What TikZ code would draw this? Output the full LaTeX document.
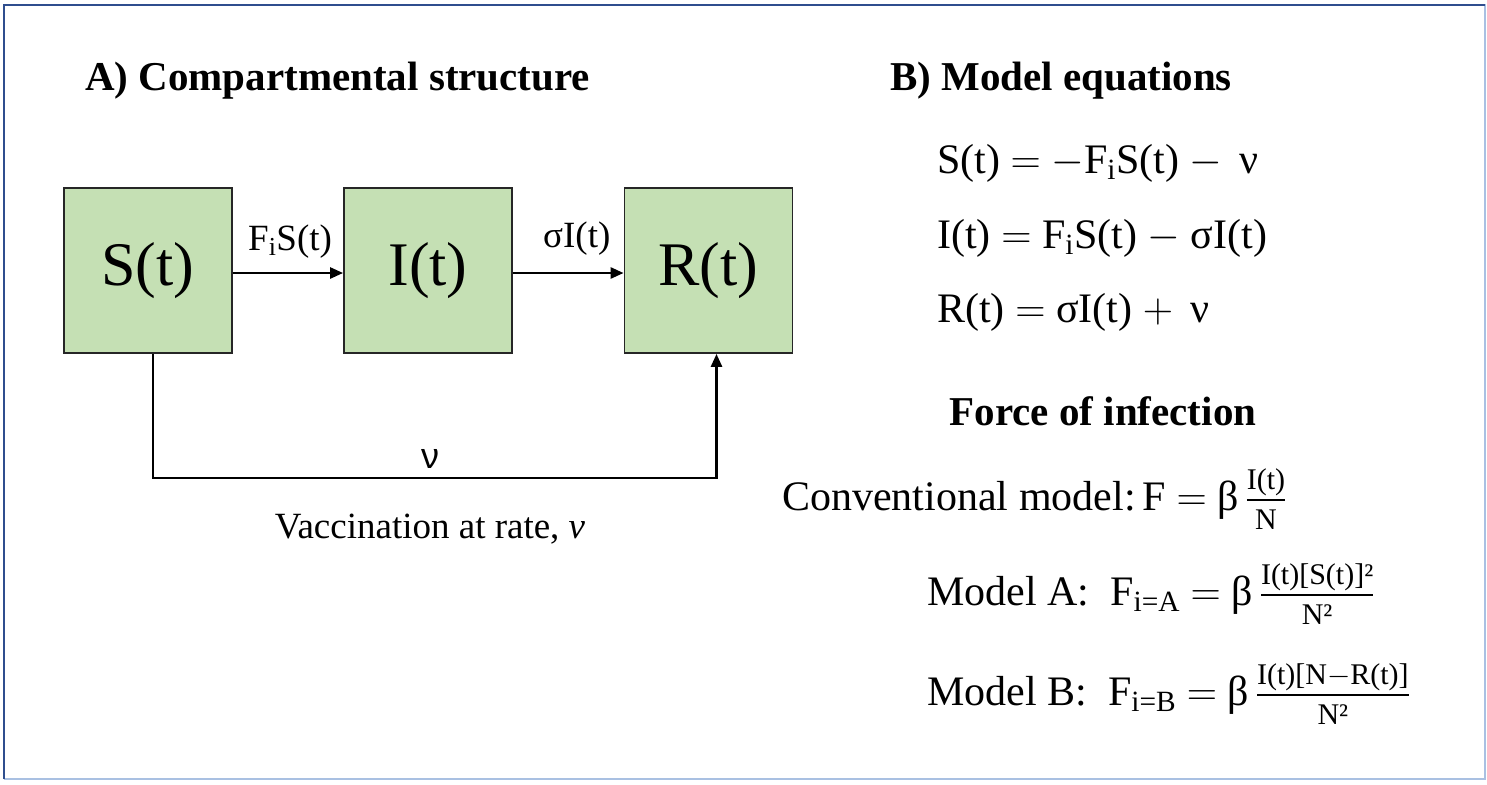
\RequirePackage{fix-cm}
\documentclass[tikz,border=0pt]{standalone}
\usepackage{fontspec}
\usepackage{amsmath}
\setmainfont{Liberation Serif}
\newfontfamily\sansnu{Liberation Sans}
\usetikzlibrary{arrows.meta,calc}
\definecolor{boxgreen}{HTML}{C5E0B4}
\definecolor{framedark}{HTML}{2F4E8E}
\definecolor{framelight}{HTML}{A9C0E2}
\newcommand{\ffr}[2]{\genfrac{}{}{2pt}{1}{\text{\fontsize{30}{34}\selectfont #1\rule[-7pt]{0pt}{7pt}}}{\text{\fontsize{30}{34}\selectfont\rule{0pt}{27pt}#2}}}
\tikzset{
  comp/.style={draw=black!85, line width=1.8pt, fill=boxgreen, minimum width=168pt, minimum height=165pt, inner sep=0pt, font=\fontsize{62}{70}\selectfont},
  flow/.style={line width=2.6pt, -{Triangle[length=13pt,width=11pt]}},
  title/.style={anchor=base west, inner sep=0pt, font=\fontsize{41}{48}\selectfont\bfseries},
  eq/.style={anchor=base west, inner sep=0pt, font=\fontsize{42}{50}\selectfont},
  lab/.style={anchor=base west, inner sep=0pt, font=\fontsize{37}{44}\selectfont},
}
\begin{document}
\begin{tikzpicture}[x=1pt,y=-1pt]
\useasboundingbox (0,0) rectangle (1487,784);
% frame
\draw[framelight, line width=1.5pt] (4,5) -- (1485,5) -- (1485,779) -- (4,779);
\draw[framedark, line width=2pt] (4,779) -- (4,5) -- (1485,5);
% titles
\node[title] (tA) at (85,90) {A) Compartmental structure};
\node[title] (tB) at (890,90) {B) Model equations};
% compartments
\node[comp] (S) at (148,270.5) {S(t)};
\node[comp] (I) at (428,270.5) {I(t)};
\node[comp] (R) at (708.5,270.5) {R(t)};
% flows
\draw[flow] ([yshift=-2.5pt]S.east) -- ([yshift=-2.5pt]I.west);
\draw[flow] ([yshift=-2.5pt]I.east) -- ([yshift=-2.5pt]R.west);
\node[lab] (fs) at (248,250) {F$_{\text{i}}$S(t)};
\node[lab] (si) at (543,247) {σI(t)};
\coordinate (vb) at (430,478);
\draw[flow] ([xshift=5pt]S.south) |- (vb) -| ([xshift=8pt]R.south);
\node[anchor=base, inner sep=0pt, font=\fontsize{36}{40}\selectfont\sansnu] (nu) at (430,468) {ν};
\node[anchor=base, inner sep=0pt, font=\fontsize{37}{44}\selectfont] (vac) at (430,538) {Vaccination at rate, \textit{ν}};
% equations
\node[eq] (e1) at (937,173) {S(t) $=$ $-$F$_{\text{i}}$S(t) $-$\ \,ν};
\node[eq] (e2) at (937,248) {I(t) $=$ F$_{\text{i}}$S(t) $-$ σI(t)};
\node[eq] (e3) at (937,322) {R(t) $=$ σI(t) $+$\ \,ν};
\node[anchor=base, inner sep=0pt, font=\fontsize{41}{48}\selectfont\bfseries] (foi) at (1103,425) {Force of infection};
\node[eq] (c0) at (782,510) {Conventional model:\,F $=$ β\,$\ffr{I(t)}{N}$};
\node[eq] (cA) at (927,605) {Model A:\ \ F$_{\text{i=A}}$ $=$ β\,$\ffr{I(t)[S(t)]²}{N²}$};
\node[eq] (cB) at (927,705) {Model B:\ \ F$_{\text{i=B}}$ $=$ β\,$\ffr{I(t)[N$-$R(t)]}{N²}$};
\end{tikzpicture}
\end{document}
